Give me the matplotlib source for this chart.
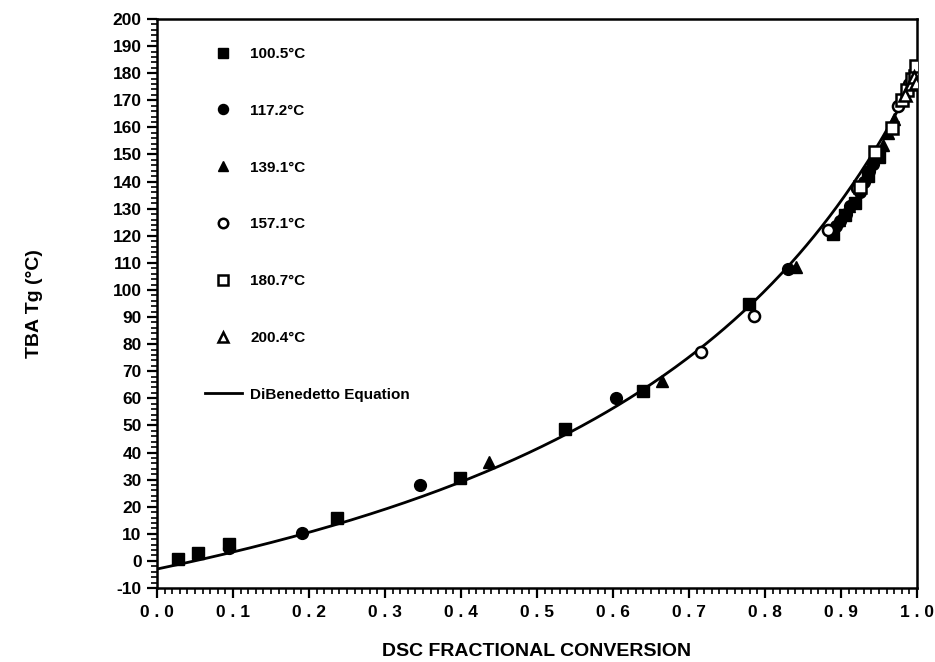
import numpy as np
import matplotlib
matplotlib.use("Agg")
import matplotlib.pyplot as plt
from matplotlib.ticker import MultipleLocator, FixedLocator, FixedFormatter

plt.rcParams['font.family'] = ['Liberation Sans', 'DejaVu Sans']
plt.rcParams['font.weight'] = 'bold'

# ---- data ----
sq_f_x = [0.028, 0.054, 0.095, 0.237, 0.399, 0.537, 0.640, 0.779, 0.889, 0.905, 0.918, 0.935, 0.950]
sq_f_y = [0.7, 3.0, 6.3, 15.9, 30.6, 48.7, 62.7, 94.8, 120.5, 127.5, 132.0, 142.0, 149.0]

ci_f_x = [0.095, 0.191, 0.346, 0.604, 0.830, 0.893, 0.899, 0.906, 0.912, 0.925, 0.930, 0.937, 0.942]
ci_f_y = [4.8, 10.3, 28.0, 60.1, 107.7, 123.5, 125.5, 128.0, 131.0, 136.0, 140.0, 144.0, 146.5]

tr_f_x = [0.437, 0.664, 0.841, 0.897, 0.910, 0.955, 0.962, 0.970]
tr_f_y = [36.5, 66.4, 108.5, 126.0, 131.0, 153.5, 158.0, 163.0]

ci_o_x = [0.716, 0.786, 0.883, 0.921, 0.975, 0.990]
ci_o_y = [77.1, 90.4, 122.1, 137.6, 168.0, 176.0]

sq_o_x = [0.925, 0.945, 0.967, 0.980, 0.987, 0.994, 0.998, 0.999]
sq_o_y = [138.0, 150.9, 159.8, 170.1, 173.8, 178.0, 179.0, 182.5]

tr_o_x = [0.984, 0.992, 0.996, 0.999]
tr_o_y = [172.0, 176.0, 178.6, 176.5]

labels = ['100.5°C', '117.2°C', '139.1°C', '157.1°C', '180.7°C', '200.4°C']
line_label = 'DiBenedetto Equation'

# DiBenedetto equation parameters
Tg0, Tginf, lam = -3.0, 180.0, 0.32

xticks = [0.0, 0.1, 0.2, 0.3, 0.4, 0.5, 0.6, 0.7, 0.8, 0.9, 1.0]
yticks = list(range(-10, 201, 10))

# ---- figure ----
fig = plt.figure(figsize=(9.35, 6.62), dpi=100)
ax = fig.add_axes([157/935, 1-588/662, (917-157)/935, (588-19)/662])

xc = np.linspace(0, 1, 400)
tg = Tg0 + (Tginf - Tg0) * lam * xc / (1 - (1 - lam) * xc)

ms = 8.5
mew = 1.8
h1, = ax.plot(sq_f_x, sq_f_y, 's', color='black', ms=ms, label=labels[0], zorder=3)
h2, = ax.plot(ci_f_x, ci_f_y, 'o', color='black', ms=ms, label=labels[1], zorder=3)
h3, = ax.plot(tr_f_x, tr_f_y, '^', color='black', ms=ms, label=labels[2], zorder=3)
h4, = ax.plot(ci_o_x, ci_o_y, 'o', mfc='white', mec='black', mew=mew, ms=ms-0.5, label=labels[3], zorder=4)
h5, = ax.plot(sq_o_x, sq_o_y, 's', mfc='white', mec='black', mew=mew, ms=ms, label=labels[4], zorder=4)
h6, = ax.plot(tr_o_x, tr_o_y, '^', mfc='white', mec='black', mew=mew, ms=ms, label=labels[5], zorder=4)
h7, = ax.plot(xc, tg, '-', color='black', lw=2.0, label=line_label, zorder=2)

ax.set_xlim(0, 1.0)
ax.set_ylim(-10, 200)

ax.xaxis.set_major_locator(FixedLocator(xticks))
ax.xaxis.set_major_formatter(FixedFormatter([' . '.join(f'{t:.1f}'.split('.')) for t in xticks]))
ax.xaxis.set_minor_locator(MultipleLocator(0.01))
ax.yaxis.set_major_locator(FixedLocator(yticks))
ax.yaxis.set_major_formatter(FixedFormatter([str(t) for t in yticks]))
ax.yaxis.set_minor_locator(MultipleLocator(2))

ax.tick_params(axis='both', which='major', direction='out', length=7, width=1.6,
               labelsize=12.5, pad=4)
ax.tick_params(axis='both', which='minor', direction='out', length=4, width=1.2)
ax.tick_params(axis='x', which='major', pad=5)
for lab in ax.get_xticklabels() + ax.get_yticklabels():
    lab.set_fontweight('bold')

for s in ax.spines.values():
    s.set_linewidth(1.8)

ax.set_xlabel('DSC FRACTIONAL CONVERSION', fontsize=14, fontweight='bold', labelpad=17)
ax.set_ylabel('TBA Tg (°C)', fontsize=14, fontweight='bold', labelpad=50)

leg = ax.legend(handles=[h1, h2, h3, h4, h5, h6, h7], loc='upper left',
                bbox_to_anchor=(0.045, 0.975), frameon=False,
                prop={'size': 11, 'weight': 'bold'},
                labelspacing=2.8, handlelength=2.4, handletextpad=0.55,
                markerscale=0.85)

fig.savefig('out.png', dpi=100)
